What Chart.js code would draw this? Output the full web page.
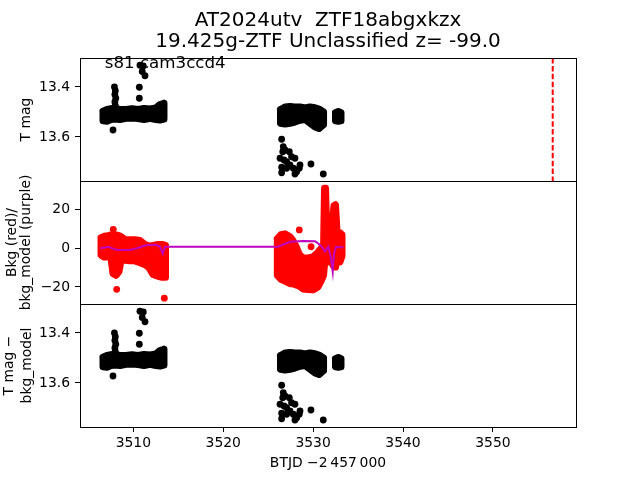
<!DOCTYPE html>
<html>
<head>
<meta charset="utf-8">
<script src="https://cdn.jsdelivr.net/npm/chart.js@4.4.1/dist/chart.umd.min.js"></script>
<style>
  html, body { margin: 0; padding: 0; background: #fff; }
</style>
</head>
<body>
<canvas id="lc" width="640" height="480"></canvas>
<script>
const titleLines = ['AT2024utv  ZTF18abgxkzx', '19.425g-ZTF Unclassified z= -99.0'];
const sectorLabel = 's81 cam3ccd4';

const timeTicks = [3510, 3520, 3530, 3540, 3550];
const magTicks = [13.4, 13.6];
const bkgTicks = [-20, 0, 20];

// T mag: dense bands, read as bright / faint edge per time
const bandTimeA = [3506.63, 3507.07, 3507.52, 3507.96, 3508.52, 3509.19, 3509.85, 3510.52, 3511.19, 3511.86, 3512.52, 3512.97, 3513.41];
const bandBrightA = [13.497, 13.490, 13.487, 13.484, 13.490, 13.490, 13.487, 13.490, 13.486, 13.488, 13.484, 13.470, 13.465];
const bandFaintA = [13.535, 13.537, 13.530, 13.528, 13.530, 13.525, 13.524, 13.526, 13.530, 13.525, 13.530, 13.532, 13.528];

const bandTimeB = [3526.37, 3526.87, 3527.43, 3527.98, 3528.54, 3529.10, 3529.65, 3530.21, 3530.65, 3531.16];
const bandBrightB = [13.490, 13.480, 13.478, 13.480, 13.480, 13.484, 13.480, 13.483, 13.488, 13.500];
const bandFaintB = [13.545, 13.548, 13.545, 13.540, 13.533, 13.530, 13.545, 13.560, 13.566, 13.550];

const bandTimeC = [3532.49, 3532.80, 3533.10];
const bandBrightC = [13.503, 13.498, 13.503];
const bandFaintC = [13.535, 13.537, 13.535];

// T mag: single points off the bands
const lcTime = [3507.90, 3508.00, 3507.95, 3508.05, 3507.95, 3508.00, 3507.74,
  3510.67, 3510.67, 3510.74, 3511.11, 3510.99, 3511.30,
  3526.50, 3526.68, 3526.62, 3526.87, 3527.35, 3526.32, 3526.76, 3527.05, 3527.60, 3527.98,
  3526.50, 3527.05, 3527.42, 3527.79, 3528.17, 3528.46, 3528.54, 3526.50, 3527.98, 3529.76, 3531.13];
const lcMag = [13.400, 13.415, 13.430, 13.445, 13.460, 13.475, 13.572,
  13.401, 13.445, 13.313, 13.316, 13.338, 13.355,
  13.609, 13.639, 13.659, 13.652, 13.659, 13.685, 13.692, 13.699, 13.679, 13.685,
  13.721, 13.725, 13.712, 13.725, 13.739, 13.725, 13.712, 13.743, 13.748, 13.708, 13.748];

// background flux: dense red masses, high / low edge per time
const bkgTimeA = [3506.41, 3506.74, 3507.18, 3507.52, 3507.74, 3508.07, 3508.41, 3508.63, 3509.08, 3509.63, 3510.19, 3510.74, 3511.30, 3511.75, 3512.19, 3512.75, 3513.19, 3513.58];
const bkgHighA = [5.5, 6.2, 6.5, 6.9, 6.9, 6.9, 6.5, 6.0, 4.5, 4.4, 4.4, 4.0, 2.0, 1.2, 1.5, 2.0, 2.0, 1.5];
const bkgLowA = [-3.5, -4.5, -4.5, -5.0, -13.0, -14.0, -12.0, -6.2, -6.2, -6.5, -6.5, -7.5, -8.5, -10.0, -13.5, -14.5, -15.0, -15.0];

const bkgTimeB = [3526.02, 3526.43, 3526.87, 3527.43, 3527.76, 3528.10, 3528.43, 3528.88, 3529.43, 3529.99, 3530.54, 3530.88, 3531.16, 3531.27, 3531.38, 3531.55, 3531.88, 3532.32, 3532.49, 3532.71, 3532.99, 3533.21];
const bkgHighB = [5.0, 7.0, 7.5, 6.0, 4.0, 1.0, -3.0, -5.0, -5.0, -4.5, -2.0, 0.0, 0.0, 31.0, 31.0, 2.0, 1.0, 22.0, 22.5, 4.0, 8.0, 7.0];
const bkgLowB = [-14.0, -16.0, -17.0, -18.3, -18.3, -19.0, -19.5, -21.0, -21.3, -21.5, -20.0, -17.0, -14.0, -8.0, -8.0, -6.0, -6.0, -9.5, -9.7, -4.0, -7.0, -4.0];

const bkgPtTime = [3507.77, 3508.15, 3513.45, 3528.46, 3529.77];
const bkgPtVal = [9.8, -21.2, -25.8, 9.5, 0.8];

// bkg_model
const modelTime = [3506.29, 3507.22, 3508.15, 3509.63, 3510.38, 3511.49, 3512.60, 3512.97, 3513.27, 3513.53, 3526.09, 3527.43, 3528.90, 3530.21, 3530.54, 3530.96, 3531.32, 3531.69, 3531.96, 3532.18, 3532.32, 3532.55, 3532.99, 3533.36];
const modelVal = [0.0, 0.8, -0.9, -0.9, 0.0, 1.7, 1.7, 0.8, -2.6, 0.8, 0.8, 3.4, 3.8, 3.6, 2.6, 0.8, -1.7, 0.8, -4.3, -12.1, -3.0, 0.8, 0.5, 0.6];

const peakTime = 3556.65;

const timeRange = [3504.07, 3559.24];
const magRange = [13.284, 13.776];
const bkgRange = [-28.8, 34.8];

const toPoints = (xs, ys) => xs.map((x, i) => ({ x: x, y: ys[i] }));

// closed outline: one edge forward, the other back
const outline = (xs, lo, hi) => {
  const pts = toPoints(xs, lo).concat(toPoints(xs, hi).reverse());
  pts.push(pts[0]);
  return pts;
};

const black = '#000000';
const red = '#ff0000';
const purple = '#bf00bf';

const band = (xs, lo, hi, axis, color) => ({
  type: 'line', data: outline(xs, lo, hi), yAxisID: axis, order: 3,
  borderColor: color, backgroundColor: color, borderWidth: 7, pointRadius: 0,
  borderJoinStyle: 'round', borderCapStyle: 'round', fill: 'shape'
});

const dots = (xs, ys, axis, color) => ({
  type: 'line', data: toPoints(xs, ys), yAxisID: axis, order: 2, showLine: false,
  pointRadius: 3.4, pointBorderWidth: 0, pointBackgroundColor: color, borderColor: color
});

const datasets = [
  band(bandTimeA, bandBrightA, bandFaintA, 'yMag', black),
  band(bandTimeB, bandBrightB, bandFaintB, 'yMag', black),
  band(bandTimeC, bandBrightC, bandFaintC, 'yMag', black),
  dots(lcTime, lcMag, 'yMag', black),
  {
    type: 'line', yAxisID: 'yMag', order: 0,
    data: [{ x: peakTime, y: magRange[0] }, { x: peakTime, y: magRange[1] }],
    borderColor: red, borderWidth: 2, borderDash: [5.5, 2.4], pointRadius: 0, fill: false
  },
  band(bkgTimeA, bkgHighA, bkgLowA, 'yBkg', red),
  band(bkgTimeB, bkgHighB, bkgLowB, 'yBkg', red),
  dots(bkgPtTime, bkgPtVal, 'yBkg', red),
  {
    type: 'line', yAxisID: 'yBkg', order: 0, data: toPoints(modelTime, modelVal),
    borderColor: purple, borderWidth: 2, pointRadius: 0, fill: false
  },
  band(bandTimeA, bandBrightA, bandFaintA, 'yCorr', black),
  band(bandTimeB, bandBrightB, bandFaintB, 'yCorr', black),
  band(bandTimeC, bandBrightC, bandFaintC, 'yCorr', black),
  dots(lcTime, lcMag, 'yCorr', black)
];

const minus = v => (v < 0 ? '\u2212' + Math.abs(v) : String(v));

const panelAxis = (range, ticks, weight, reverse, title, lineHeight, pad, fmt) => ({
  type: 'linear', position: 'left', stack: 'panels', stackWeight: 1, weight: weight,
  min: range[0], max: range[1], reverse: reverse,
  afterBuildTicks: s => { s.ticks = ticks.map(v => ({ value: v })); },
  afterFit: s => { s.width = 80; },
  grid: { drawOnChartArea: false, tickLength: 5, tickColor: black, tickWidth: 1 },
  border: { color: black, width: 1 },
  ticks: { padding: 5, color: black, font: { size: 13.9 }, callback: fmt },
  title: {
    display: true, text: title, color: black,
    font: { size: 13.9, lineHeight: lineHeight },
    padding: { top: pad, bottom: 0 }
  }
});

Chart.defaults.font.family = "'DejaVu Sans', sans-serif";
Chart.defaults.color = black;

const figText = {
  id: 'figText',
  afterDraw(chart) {
    const { ctx, chartArea, scales } = chart;
    ctx.save();
    ctx.strokeStyle = black;
    ctx.lineWidth = 1;
    ['yMag', 'yBkg', 'yCorr'].forEach(id => {
      const s = scales[id];
      ctx.strokeRect(Math.round(chartArea.left) + 0.5, Math.round(s.top) + 0.5,
        Math.round(chartArea.right - chartArea.left), Math.round(s.bottom - s.top));
    });
    ctx.fillStyle = black;
    ctx.textBaseline = 'middle';
    ctx.textAlign = 'center';
    ctx.font = "20px 'DejaVu Sans'";
    const cx = (chartArea.left + chartArea.right) / 2;
    ctx.fillText(titleLines[0], cx, 20.5);
    ctx.fillText(titleLines[1], cx, 42);
    const top = scales.yMag;
    ctx.textAlign = 'left';
    ctx.font = "16.67px 'DejaVu Sans'";
    ctx.fillText(sectorLabel, chartArea.left + 0.05 * (chartArea.right - chartArea.left),
      top.top + 0.05 * (top.bottom - top.top));
    ctx.restore();
  }
};

new Chart(document.getElementById('lc'), {
  type: 'line',
  data: { datasets: datasets },
  options: {
    responsive: false,
    animation: false,
    layout: { padding: { top: 58, right: 64, left: 0, bottom: 0 } },
    plugins: { legend: { display: false }, tooltip: { enabled: false } },
    scales: {
      x: {
        type: 'linear', position: 'bottom', min: timeRange[0], max: timeRange[1],
        afterBuildTicks: s => { s.ticks = timeTicks.map(v => ({ value: v })); },
        afterFit: s => { s.height = 53; },
        grid: { drawOnChartArea: false, tickLength: 5, tickColor: black, tickWidth: 1 },
        border: { color: black, width: 1 },
        ticks: { padding: 3, color: black, font: { size: 13.9 }, maxRotation: 0, callback: v => String(v) },
        title: {
          display: true, text: 'BTJD \u22122\u2009457\u2009000', color: black,
          font: { size: 13.9 }, padding: { top: 0, bottom: 8.6 }
        }
      },
      yMag: panelAxis(magRange, magTicks, 3, true, 'T mag', 1.2, 17.6, v => v.toFixed(1)),
      yBkg: panelAxis(bkgRange, bkgTicks, 2, false, ['Bkg (red)/', 'bkg_model (purple)'], 1.0, 5.5, minus),
      yCorr: panelAxis(magRange, magTicks, 1, true, ['T mag \u2212', 'bkg_model'], 1.3, 0, v => v.toFixed(1))
    }
  },
  plugins: [figText]
});
</script>
</body>
</html>
